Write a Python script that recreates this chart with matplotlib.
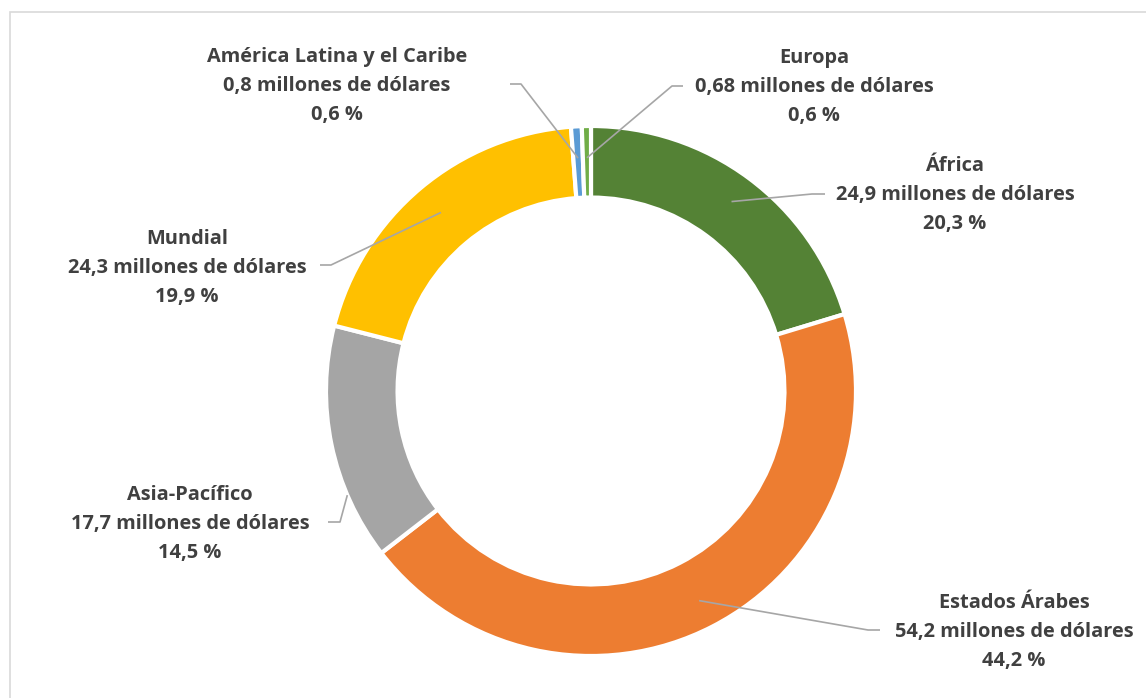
import numpy as np
import matplotlib
matplotlib.use('Agg')
import matplotlib.pyplot as plt
from matplotlib.patches import Rectangle

# datos (millones de dólares) en el orden de las agujas del reloj desde arriba
regiones = ['África', 'Estados Árabes', 'Asia-Pacífico', 'Mundial',
            'América Latina y el Caribe', 'Europa']
montos = [24.9, 54.2, 17.7, 24.3, 0.8, 0.68]
montos_txt = ['24,9', '54,2', '17,7', '24,3', '0,8', '0,68']
porcentajes = ['20,3 %', '44,2 %', '14,5 %', '19,9 %', '0,6 %', '0,6 %']
colores = ['#548235', '#ED7D31', '#A5A5A5', '#FFC000', '#5B9BD5', '#70AD47']

plt.rcParams['font.family'] = ['Open Sans', 'DejaVu Sans']

W, H = 1146, 698
fig = plt.figure(figsize=(W / 100, H / 100), dpi=100)
ax = fig.add_axes([0, 0, 1, 1])

cx, cy, R = 591, H - 391, 265
wedges, _ = ax.pie(montos, colors=colores, startangle=90, counterclock=False,
                   center=(cx, cy), radius=R,
                   wedgeprops=dict(width=R * 0.27, edgecolor='white', linewidth=3))
ax.set_xlim(0, W)
ax.set_ylim(0, H)
ax.axis('off')

# posiciones de las etiquetas (pixeles) y de las líneas guía
texto_pos = [(955, 195), (1014, 632), (190, 524), (187, 268), (337, 86), (814, 87)]
codo = [(812, 194), (868, 630), (340, 522), (331, 265), (521, 84), (672, 86)]
fin = [(825, 194), (880, 630), (328, 522), (320, 265), (510, 84), (683, 86)]
ancla = [(0.5, 0.89), (0.5, 0.89), (0.72, 1.0), (0.5, 0.88), (0.5, 0.88), (0.5, 0.88)]

for i, w in enumerate(wedges):
    f, r = ancla[i]
    ang = np.deg2rad(w.theta1 + f * (w.theta2 - w.theta1))
    x0 = cx + R * r * np.cos(ang)
    y0 = cy + R * r * np.sin(ang)
    ax.plot([x0, codo[i][0], fin[i][0]], [y0, H - codo[i][1], H - fin[i][1]],
            color='#A6A6A6', lw=1.2, solid_capstyle='butt')
    etiqueta = regiones[i] + '\n' + montos_txt[i] + ' millones de dólares\n' + porcentajes[i]
    ax.text(texto_pos[i][0], H - texto_pos[i][1], etiqueta, ha='center', va='center',
            fontsize=14.4, fontweight='bold', color='#404040', linespacing=1.62)

# marco del área del gráfico
fig.patches.append(Rectangle((10 / W, -0.1), 1.2, (H - 12) / H + 0.1,
                             transform=fig.transFigure, fill=False,
                             edgecolor='#D9D9D9', lw=1.2))

fig.savefig('out.png', dpi=100)
